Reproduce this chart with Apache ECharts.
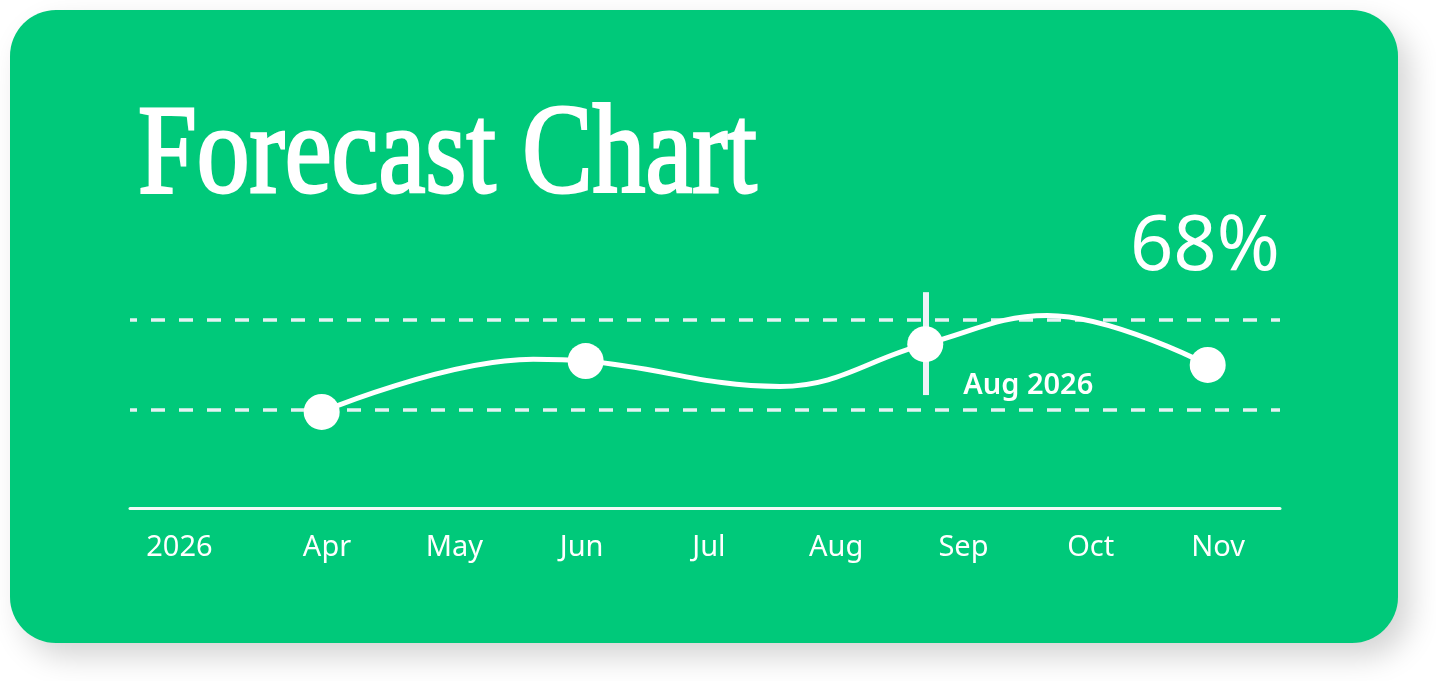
<!DOCTYPE html>
<html>
<head>
<meta charset="utf-8">
<script src="https://cdn.jsdelivr.net/npm/echarts@6/dist/echarts.min.js"></script>
<style>
  html, body { margin: 0; padding: 0; background: #ffffff; }
  #chart { width: 1436px; height: 681px; }
</style>
</head>
<body>
<div id="chart"></div>
<script>
// ---- data (x in months of 2026, 1 = Jan 1; y in percent) ----
const titleText = 'Forecast Chart';
const headlineValue = '68%';
const tickPositions = [1.84, 3, 4, 5, 6, 7, 8, 9, 10];
const tickLabels = ['2026', 'Apr', 'May', 'Jun', 'Jul', 'Aug', 'Sep', 'Oct', 'Nov'];
const linePositions = [2.958, 4.62, 5.032, 6.56, 7.70, 8.66, 9.919];
const lineValues = [49.3, 64.0, 63.5, 56.4, 68.2, 76.2, 62.4];
const showDot = [true, false, true, false, true, false, true];
const referenceLevels = [50, 75];
const markerPosition = 7.70;
const markerRange = [54, 82.7];
const markerLabel = 'Aug 2026';
const xRange = [1.452, 10.487];
const yRange = [22.5, 90];

const GREEN = '#00C97A';
const sans = '"Noto Sans", "Open Sans", sans-serif';

const seriesData = linePositions.map((x, i) => {
  const item = { value: [x, lineValues[i]] };
  if (!showDot[i]) { item.symbol = 'none'; }
  if (x === markerPosition) {
    item.label = {
      show: true,
      formatter: markerLabel,
      position: 'right',
      offset: [15, 42],
      color: '#ffffff',
      fontFamily: sans,
      fontSize: 29,
      fontWeight: 600
    };
  }
  return item;
});

const chart = echarts.init(document.getElementById('chart'), null, { renderer: 'canvas' });

chart.setOption({
  animation: false,
  backgroundColor: '#ffffff',
  graphic: [
    {
      type: 'rect',
      z: -10,
      shape: { x: 10, y: 10, width: 1388, height: 633, r: 46 },
      style: {
        fill: GREEN,
        shadowBlur: 30,
        shadowOffsetX: 12,
        shadowOffsetY: 14,
        shadowColor: 'rgba(0,0,0,0.17)'
      }
    },
    {
      type: 'text',
      x: 138,
      y: 158,
      scaleX: 0.825,
      style: {
        text: titleText,
        x: 0, y: 0,
        fill: '#ffffff',
        stroke: '#ffffff',
        lineWidth: 3,
        font: 'normal 128px "Liberation Serif", "DejaVu Serif", serif',
        align: 'left',
        verticalAlign: 'middle'
      }
    },
    {
      type: 'text',
      x: 1280,
      y: 248,
      style: {
        text: headlineValue,
        x: 0, y: 0,
        fill: '#ffffff',
        font: 'normal 76px ' + sans,
        align: 'right',
        verticalAlign: 'middle'
      }
    }
  ],
  grid: { left: 130, right: 156, top: 266, bottom: 173, containLabel: false },
  xAxis: {
    type: 'value',
    min: xRange[0],
    max: xRange[1],
    splitLine: { show: false },
    axisTick: { show: false },
    axisLine: { show: true, lineStyle: { color: '#F2FAF6', width: 3 } },
    axisLabel: {
      customValues: tickPositions,
      formatter: function (v) {
        let best = 0;
        for (let i = 1; i < tickPositions.length; i++) {
          if (Math.abs(tickPositions[i] - v) < Math.abs(tickPositions[best] - v)) best = i;
        }
        return tickLabels[best];
      },
      margin: 25,
      color: '#ffffff',
      fontFamily: sans,
      fontSize: 29
    }
  },
  yAxis: {
    type: 'value',
    min: yRange[0],
    max: yRange[1],
    show: false,
    splitLine: { show: false }
  },
  series: [
    {
      type: 'line',
      data: seriesData,
      smooth: 0.4,
      symbol: 'circle',
      symbolSize: 36,
      showAllSymbol: true,
      itemStyle: { color: '#ffffff' },
      lineStyle: { color: '#ffffff', width: 5 },
      z: 5,
      markLine: {
        silent: true,
        symbol: ['none', 'none'],
        label: { show: false },
        data: referenceLevels.map(v => ({
          yAxis: v,
          lineStyle: { color: '#E6F1F3', width: 3.5, type: [14, 14], dashOffset: 7 }
        })).concat([[
          { coord: [markerPosition, markerRange[1]], lineStyle: { color: '#EEF3F8', width: 6, type: 'solid' } },
          { coord: [markerPosition, markerRange[0]] }
        ]])
      }
    }
  ]
});
</script>
</body>
</html>
